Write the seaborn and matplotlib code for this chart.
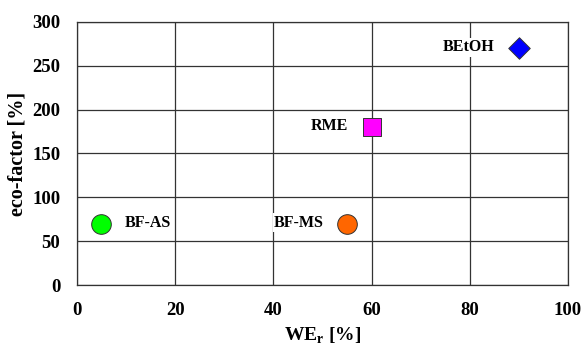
import seaborn as sns
import matplotlib.pyplot as plt
import pandas as pd

names = ["BF-AS", "BF-MS", "RME", "BEtOH"]
we_r = [5, 55, 60, 90]
eco_factor = [70, 70, 180, 270]
colors = ["#00FF00", "#FF6600", "#FF00FF", "#0000FF"]
markers = ["o", "o", "s", "D"]
sizes = [200, 200, 160, 120]
label_x = [9.8, 50.3, 55.2, 85]
label_ha = ["left", "right", "right", "right"]

df = pd.DataFrame({"name": names, "x": we_r, "y": eco_factor})

sns.set_style("white")
plt.rcParams["font.family"] = ["Liberation Serif", "DejaVu Serif"]
plt.rcParams["text.color"] = "black"
plt.rcParams["axes.labelcolor"] = "black"
plt.rcParams["xtick.color"] = "black"
plt.rcParams["ytick.color"] = "black"

fig = plt.figure(figsize=(5.82, 3.52), dpi=100)
ax = fig.add_axes([0.132, 0.19, 0.844, 0.748])

ax.grid(True, color="#333333", linewidth=0.9)
ax.set_axisbelow(True)

for i, row in df.iterrows():
    sns.scatterplot(x=[row["x"]], y=[row["y"]], ax=ax, color=colors[i], marker=markers[i],
                    s=sizes[i], edgecolor="#333333", linewidth=0.7, zorder=3)
    ax.text(label_x[i], row["y"] + 1, row["name"], ha=label_ha[i], va="center",
            fontsize=11.5, fontweight="bold", zorder=4,
            bbox=dict(facecolor="white", edgecolor="none", pad=1))

ax.set_xlim(0, 100)
ax.set_ylim(0, 300)
ax.set_xticks(range(0, 101, 20))
ax.set_yticks(range(0, 301, 50))
for lbl in ax.get_xticklabels() + ax.get_yticklabels():
    lbl.set_fontweight("bold")
ax.tick_params(labelsize=13.5, length=4, color="#333333", direction="out", pad=8)
for sp in ax.spines.values():
    sp.set_color("#333333")
    sp.set_linewidth(0.9)

ax.set_xlabel("WE$_\\mathregular{r}$ [%]", fontsize=14, fontweight="bold", labelpad=5)
ax.set_ylabel("eco-factor [%]", fontsize=14.5, fontweight="bold", labelpad=3)

fig.savefig("out.png", dpi=100)
